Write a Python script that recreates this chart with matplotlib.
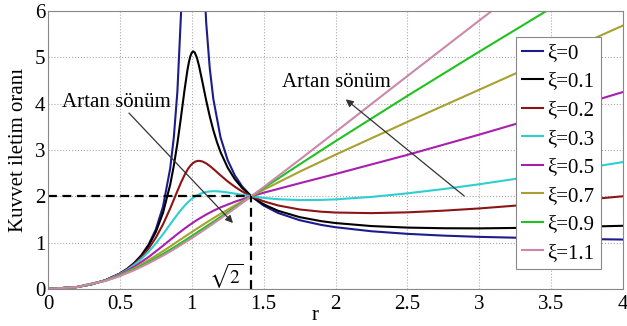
import numpy as np
import matplotlib
matplotlib.use("Agg")
from matplotlib import pyplot as plt

plt.rcParams['font.family'] = ['Liberation Serif', 'DejaVu Serif']
plt.rcParams['mathtext.fontset'] = 'stix'

# undamped curve (break at resonance)
r_zero = [0, 0.2, 0.3, 0.4, 0.5, 0.55, 0.6, 0.65, 0.7, 0.75, 0.8, 0.85, 0.875, 0.9, 0.925, 0.95, 1.0,
          1.05, 1.075, 1.1, 1.125, 1.15, 1.2, 1.25, 1.3, 1.35, 1.414, 1.5, 1.6, 1.75, 1.9, 2.0,
          2.25, 2.5, 2.75, 3.0, 3.5, 4.0]
tr_0 = [0, 0.042, 0.099, 0.190, 0.333, 0.434, 0.563, 0.732, 0.961, 1.286, 1.778, 2.604, 3.267, 4.263,
        5.926, 9.256, np.nan, 10.756, 7.426, 5.762, 4.765, 4.101, 3.273, 2.778, 2.449, 2.216, 2.0,
        1.800, 1.641, 1.485, 1.383, 1.333, 1.246, 1.190, 1.152, 1.125, 1.089, 1.067]

# light damping, read densely around the peak
r_fine = [0, 0.2, 0.3, 0.4, 0.5, 0.55, 0.6, 0.65, 0.7, 0.75, 0.8, 0.85, 0.875, 0.9, 0.925, 0.95,
          0.97, 0.98, 0.99, 1.0, 1.01, 1.02, 1.035, 1.05, 1.075, 1.1, 1.125, 1.15, 1.175, 1.2,
          1.25, 1.3, 1.35, 1.414, 1.5, 1.6, 1.75, 1.9, 2.0, 2.25, 2.5, 2.75, 3.0, 3.5, 4.0]
tr_01 = [0, 0.042, 0.099, 0.190, 0.332, 0.431, 0.557, 0.720, 0.936, 1.230, 1.645, 2.252, 2.657,
         3.145, 3.708, 4.302, 4.726, 4.894, 5.021, 5.099, 5.127, 5.106, 4.997, 4.821, 4.454, 4.074,
         3.727, 3.426, 3.171, 2.955, 2.617, 2.368, 2.181, 2.0, 1.827, 1.688, 1.551, 1.464, 1.423,
         1.358, 1.325, 1.311, 1.308, 1.327, 1.364]
tr_02 = [0, 0.042, 0.099, 0.190, 0.329, 0.424, 0.542, 0.689, 0.875, 1.107, 1.395, 1.739, 1.926,
         2.115, 2.297, 2.461, 2.572, 2.618, 2.659, 2.693, 2.720, 2.741, 2.760, 2.766, 2.751, 2.711,
         2.656, 2.591, 2.522, 2.453, 2.321, 2.205, 2.105, 2.0, 1.892, 1.803, 1.716, 1.668, 1.650,
         1.637, 1.654, 1.690, 1.738, 1.859, 2.001]
tr_03 = [0, 0.042, 0.099, 0.188, 0.323, 0.413, 0.521, 0.651, 0.804, 0.983, 1.183, 1.397, 1.504,
         1.608, 1.706, 1.796, 1.861, 1.891, 1.918, 1.944, 1.967, 1.989, 2.017, 2.042, 2.073, 2.093,
         2.105, 2.110, 2.108, 2.103, 2.083, 2.058, 2.032, 2.0, 1.965, 1.937, 1.919, 1.922, 1.934,
         1.987, 2.064, 2.156, 2.260, 2.490, 2.739]

# heavier damping
r = [0, 0.2, 0.4, 0.5, 0.6, 0.7, 0.8, 0.85, 0.9, 0.95, 0.98, 1.0, 1.02, 1.05,
     1.1, 1.15, 1.2, 1.3, 1.414, 1.5, 1.75, 2.0, 2.5, 3.0, 3.5, 4.0]
tr_05 = [0, 0.042, 0.185, 0.310, 0.479, 0.691, 0.934, 1.061, 1.185, 1.304, 1.371, 1.414, 1.456, 1.515,
         1.606, 1.688, 1.760, 1.883, 2.0, 2.077, 2.282, 2.481, 2.894, 3.331, 3.785, 4.250]
tr_07 = [0, 0.042, 0.182, 0.298, 0.445, 0.621, 0.817, 0.919, 1.023, 1.126, 1.188, 1.229, 1.270, 1.330,
         1.430, 1.527, 1.621, 1.803, 2.0, 2.141, 2.531, 2.898, 3.606, 4.300, 4.993, 5.685]
tr_09 = [0, 0.042, 0.178, 0.287, 0.422, 0.580, 0.756, 0.849, 0.945, 1.044, 1.104, 1.144, 1.184, 1.246,
         1.348, 1.451, 1.555, 1.763, 2.0, 2.177, 2.688, 3.189, 4.167, 5.121, 6.060, 6.990]
tr_11 = [0, 0.041, 0.175, 0.279, 0.406, 0.555, 0.721, 0.810, 0.903, 0.999, 1.059, 1.099, 1.139, 1.200,
         1.304, 1.411, 1.519, 1.740, 2.0, 2.199, 2.789, 3.389, 4.595, 5.793, 6.977, 8.148]

labels = ['ξ=0', 'ξ=0.1', 'ξ=0.2', 'ξ=0.3', 'ξ=0.5', 'ξ=0.7', 'ξ=0.9', 'ξ=1.1']
colors = ['#1c1c8a', '#000000', '#8c1414', '#2ecfd2', '#a81fb0', '#a8a030', '#1fc21f', '#cc88aa']
xs = [r_zero, r_fine, r_fine, r_fine, r, r, r, r]
ys = [tr_0, tr_01, tr_02, tr_03, tr_05, tr_07, tr_09, tr_11]

fig = plt.figure(figsize=(6.27, 3.26), dpi=100)
ax = fig.add_axes([0.0766, 0.1135, 0.917, 0.853])

for i in range(8):
    ax.plot(xs[i], ys[i], color=colors[i], lw=1.5, label=labels[i])

# reference lines at sqrt(2)
s2 = np.sqrt(2)
ax.plot([0, s2], [2, 2], 'k--', lw=1.6, dashes=(4, 2.5))
ax.plot([s2, s2], [0, 2], 'k--', lw=1.6, dashes=(4, 2.5))
ax.text(1.36, 0.28, r'$\sqrt{2}$', fontsize=14, ha='right', va='center')

ax.annotate('', xy=(1.30, 1.38), xytext=(0.55, 3.84),
            arrowprops=dict(arrowstyle='-|>', color='#333333', lw=0.9, mutation_scale=11))
ax.text(0.10, 4.02, 'Artan sönüm', fontsize=15, ha='left', va='center')
ax.annotate('', xy=(2.056, 4.13), xytext=(2.91, 1.97),
            arrowprops=dict(arrowstyle='-|>', color='#333333', lw=0.9, mutation_scale=11))
ax.text(1.63, 4.45, 'Artan sönüm', fontsize=15, ha='left', va='center')

ax.set_xlim(0, 4)
ax.set_ylim(0, 6)
ax.set_xticks([0, 0.5, 1, 1.5, 2, 2.5, 3, 3.5, 4])
ax.set_xticklabels(['0', '0.5', '1', '1.5', '2', '2.5', '3', '3.5', '4'])
ax.set_yticks([0, 1, 2, 3, 4, 5, 6])
ax.tick_params(length=0, labelsize=15)
ax.tick_params(axis='x', pad=4)
ax.tick_params(axis='y', pad=2)
ax.grid(True, color='#aaaaaa', linestyle=':', lw=0.8)
for sp in ax.spines.values():
    sp.set_color('#888888')
    sp.set_linewidth(0.8)

ax.set_xlabel('r', fontsize=15)
ax.xaxis.set_label_coords(0.464, -0.06)
ax.set_ylabel('Kuvvet iletim oranı', fontsize=15, labelpad=5)

leg = ax.legend(loc='upper right', bbox_to_anchor=(0.9615, 0.906), fontsize=15,
                handlelength=1.0, handletextpad=0.2, labelspacing=0.43,
                borderpad=0.3, borderaxespad=0, fancybox=False, framealpha=1)
leg.get_frame().set_edgecolor('#888888')
leg.get_frame().set_linewidth(0.8)

fig.savefig('out.png', dpi=100)
